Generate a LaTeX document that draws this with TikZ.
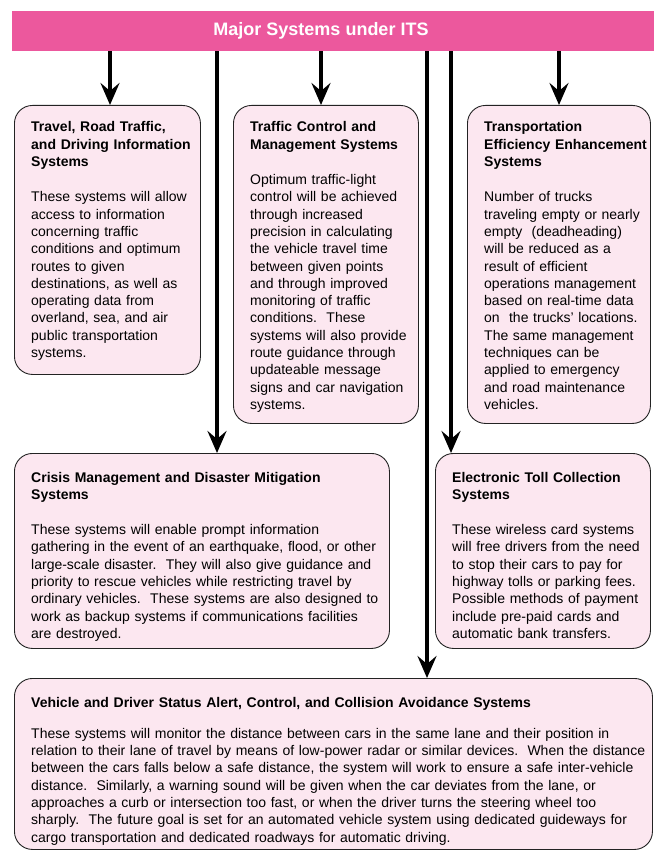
\documentclass[tikz,border=0pt]{standalone}
\usepackage{fontspec}
\setmainfont{Liberation Sans}
\usetikzlibrary{arrows.meta}
\definecolor{itsbar}{RGB}{236,88,157}
\definecolor{itspanel}{RGB}{252,231,240}
\definecolor{itsline}{RGB}{35,35,35}
\newcommand{\hd}[1]{\textbf{#1}}

\begin{document}
\begin{tikzpicture}[
    x=1pt, y=-1pt,
    font=\fontsize{14}{17.3}\selectfont,
    panel/.style={draw=itsline, line width=0.9pt, fill=itspanel, rounded corners=18pt,
                  anchor=north west, inner sep=0pt},
    desc/.style={anchor=base west, align=left, text width=#1, inner sep=0pt},
    desc/.default=170pt,
    link/.style={-{Stealth[length=22pt, width=19pt, inset=8pt]}, line width=3.5pt}
  ]
  \useasboundingbox (0,0) rectangle (654,850);

  % Header bar
  \node[fill=itsbar, minimum width=642pt, minimum height=40pt, anchor=north west, inner sep=0pt] (bar) at (12,11) {};
  \node[text=white, font=\fontsize{18}{20}\selectfont\bfseries] (head) at (321,31) {Major Systems under ITS};

  % Panels
  \node[panel, minimum width=186pt, minimum height=269pt] (info) at (14,105) {};
  \node[panel, minimum width=185pt, minimum height=318pt] (ctrl) at (233,105) {};
  \node[panel, minimum width=183pt, minimum height=318pt] (fleet) at (467,105) {};
  \node[panel, minimum width=375pt, minimum height=195pt] (crisis) at (14,453) {};
  \node[panel, minimum width=215pt, minimum height=195pt] (toll) at (435,453) {};
  \node[panel, minimum width=638pt, minimum height=171pt] (alert) at (14,678) {};

  % Panel texts
  \node[desc] (info-txt) at (31,132) {\hd{Travel, Road Traffic,}\\ \hd{and Driving Information}\\ \hd{Systems}\\[18pt]
    These systems will allow\\ access to information\\ concerning traffic\\ conditions and optimum\\ routes to given\\
    destinations, as well as\\ operating data from\\ overland, sea, and air\\ public transportation\\ systems.};
  \node[desc] (ctrl-txt) at (250,132) {\hd{Traffic Control and}\\ \hd{Management Systems}\\[18pt]
    Optimum traffic-light\\ control will be achieved\\ through increased\\ precision in calculating\\ the vehicle travel time\\
    between given points\\ and through improved\\ monitoring of traffic\\ conditions.\ \ These\\ systems will also provide\\
    route guidance through\\ updateable message\\ signs and car navigation\\ systems.};
  \node[desc] (fleet-txt) at (484,132) {\hd{Transportation}\\ \hd{Efficiency Enhancement}\\ \hd{Systems}\\[18pt]
    Number of trucks\\ traveling empty or nearly\\ empty\ \ (deadheading)\\ will be reduced as a\\ result of efficient\\
    operations management\\ based on real-time data\\ on\ \ the trucks’ locations.\\ The same management\\
    techniques can be\\ applied to emergency\\ and road maintenance\\ vehicles.};
  \node[desc=350pt] (crisis-txt) at (31,482) {\hd{Crisis Management and Disaster Mitigation}\\ \hd{Systems}\\[18pt]
    These systems will enable prompt information\\ gathering in the event of an earthquake, flood, or other\\
    large-scale disaster.\ \ They will also give guidance and\\ priority to rescue vehicles while restricting travel by\\
    ordinary vehicles.\ \ These systems are also designed to\\ work as backup systems if communications facilities\\
    are destroyed.};
  \node[desc=195pt] (toll-txt) at (452,482) {\hd{Electronic Toll Collection}\\ \hd{Systems}\\[18pt]
    These wireless card systems\\ will free drivers from the need\\ to stop their cars to pay for\\
    highway tolls or parking fees.\\ Possible methods of payment\\ include pre-paid cards and\\ automatic bank transfers.};
  \node[desc=615pt] (alert-txt) at (31,707) {\hd{Vehicle and Driver Status Alert, Control, and Collision Avoidance Systems}\\[14pt]
    These systems will monitor the distance between cars in the same lane and their position in\\
    relation to their lane of travel by means of low-power radar or similar devices.\ \ When the distance\\
    between the cars falls below a safe distance, the system will work to ensure a safe inter-vehicle\\
    distance.\ \ Similarly, a warning sound will be given when the car deviates from the lane, or\\
    approaches a curb or intersection too fast, or when the driver turns the steering wheel too\\
    sharply.\ \ The future goal is set for an automated vehicle system using dedicated guideways for\\
    cargo transportation and dedicated roadways for automatic driving.};

  % Arrows from the header
  \foreach \name/\col in {info/110, ctrl/321, fleet/559, crisis/217, toll/451, alert/427} {
    \coordinate (col-\name) at (\col,0);
    \draw[link] (bar.south -| col-\name) -- (\name.north -| col-\name);
  }
\end{tikzpicture}
\end{document}
